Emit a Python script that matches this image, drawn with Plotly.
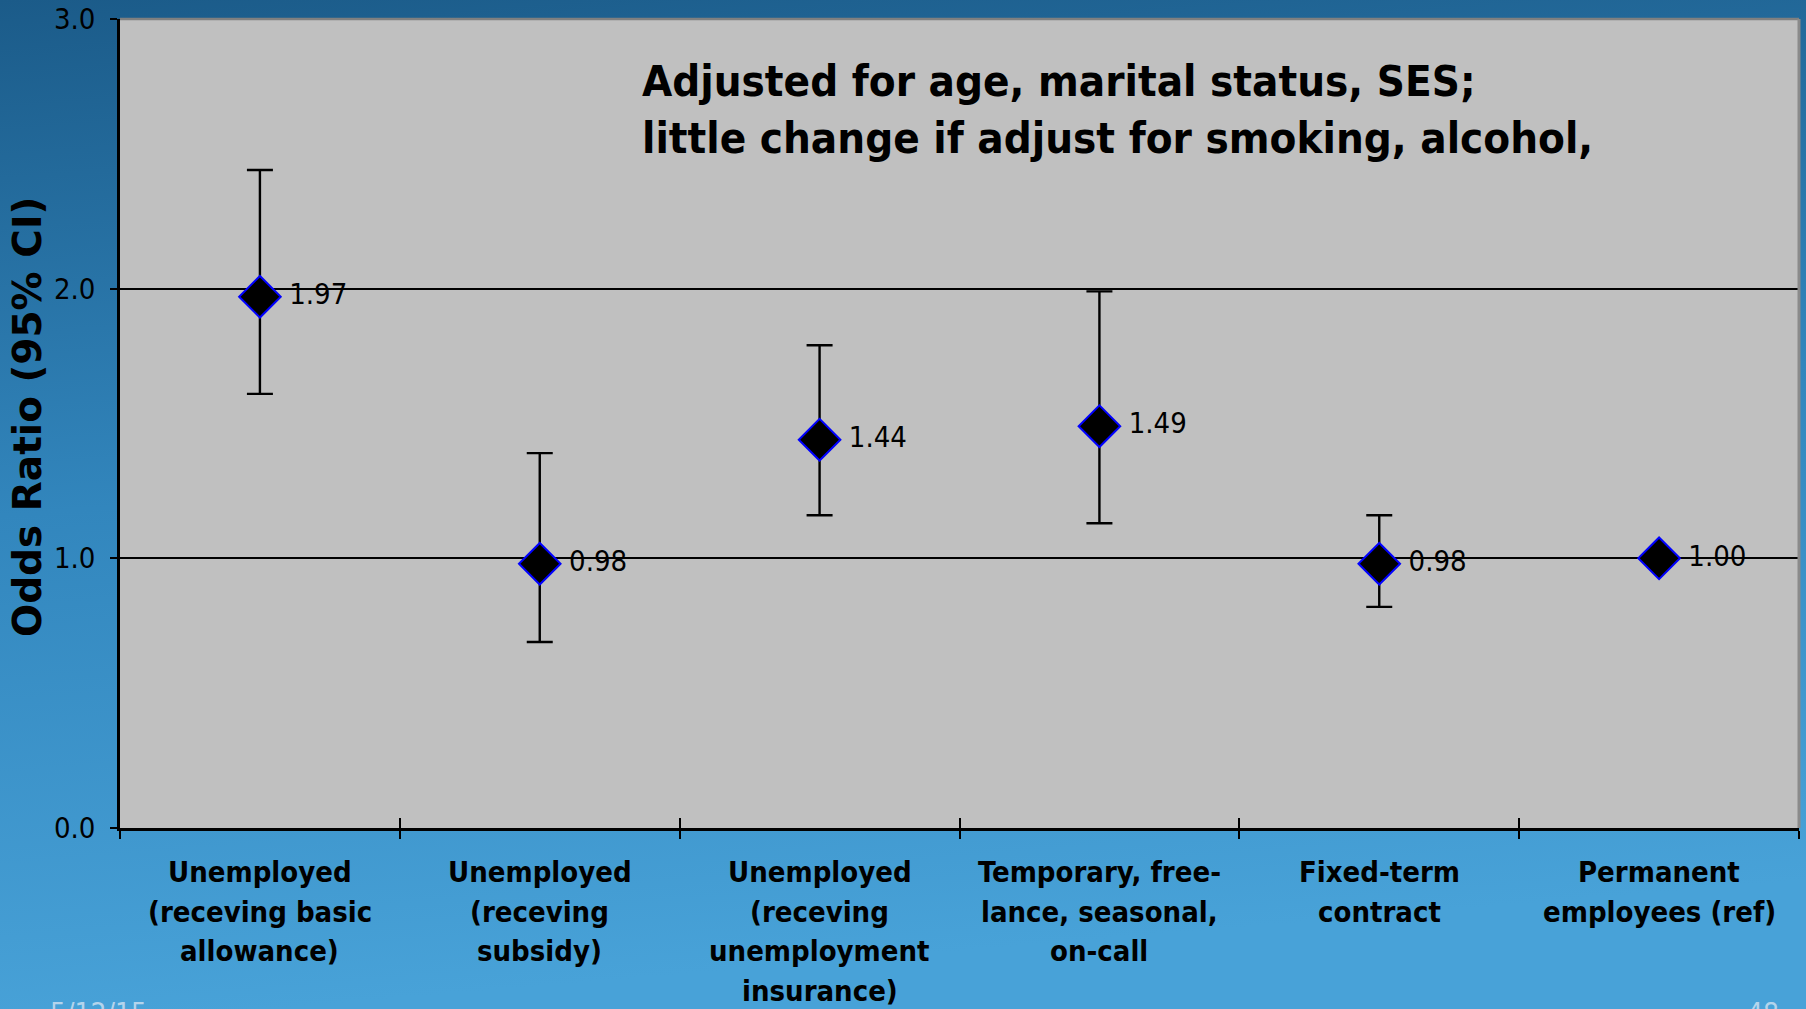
import base64
import plotly.graph_objects as go

# ---- data ----
categories = [
    "Unemployed\n(receving basic\nallowance)",
    "Unemployed\n(receving\nsubsidy)",
    "Unemployed\n(receving\nunemployment\ninsurance)",
    "Temporary, free-\nlance, seasonal,\non-call",
    "Fixed-term\ncontract",
    "Permanent\nemployees (ref)",
]
odds_ratio = [1.97, 0.98, 1.44, 1.49, 0.98, 1.00]
ci_low = [1.61, 0.69, 1.16, 1.13, 0.82, 1.00]
ci_high = [2.44, 1.39, 1.79, 1.99, 1.16, 1.00]
value_labels = ["1.97", "0.98", "1.44", "1.49", "0.98", "1.00"]
y_ticks = [0, 1, 2, 3]
y_tick_labels = ["0.0", "1.0", "2.0", "3.0"]
note_text = "Adjusted for age, marital status, SES;<br>little change if adjust for smoking, alcohol,"
y_title = "Odds Ratio (95% CI)"
footer_left = "5/12/15"
footer_right = "48"

W, H = 1806, 1009
L, R, T, B = 120, 7, 19, 181
pw, ph = W - L - R, H - T - B

REG = "DejaVu Sans Condensed, DejaVu Sans, sans-serif"
BOLD = "DejaVu Sans Condensed, DejaVu Sans, sans-serif"

xs = list(range(len(categories)))
err_plus = [h - v for h, v in zip(ci_high, odds_ratio)]
err_minus = [v - l for v, l in zip(odds_ratio, ci_low)]
has_ci = [h != l for h, l in zip(ci_high, ci_low)]

fig = go.Figure()
fig.add_trace(go.Scatter(
    x=xs, y=odds_ratio, mode="markers+text",
    text=[" " + t for t in value_labels], textposition="middle right",
    textfont=dict(family=REG, size=29, color="black"),
    marker=dict(symbol="diamond", size=32, color="black",
                line=dict(color="#0000ff", width=2)),
    error_y=dict(type="data", symmetric=False,
                 array=[e if c else 0 for e, c in zip(err_plus, has_ci)],
                 arrayminus=[e if c else 0 for e, c in zip(err_minus, has_ci)],
                 color="black", thickness=2.4, width=13,
                 visible=True),
    showlegend=False, cliponaxis=False,
))
# invisible trace for overlay axes (inside ticks)
fig.add_trace(go.Scatter(x=[xs[0]], y=[odds_ratio[0]], xaxis="x2", yaxis="y2",
                         mode="markers", marker=dict(opacity=0), showlegend=False,
                         hoverinfo="skip"))

# gradient background as svg image
svg = ('<svg xmlns="http://www.w3.org/2000/svg" width="%d" height="%d">'
       '<defs><linearGradient id="g" x1="0" y1="0" x2="0.15" y2="1">'
       '<stop offset="0" stop-color="#1b5b89"/>'
       '<stop offset="0.5" stop-color="#3286bd"/>'
       '<stop offset="1" stop-color="#48a2d8"/>'
       '</linearGradient></defs>'
       '<rect width="%d" height="%d" fill="url(#g)"/></svg>') % (W, H, W, H)
src = "data:image/svg+xml;base64," + base64.b64encode(svg.encode()).decode()

def px_x(p):
    return (p - L) / pw

def px_y(p):
    return (H - B - p) / ph

xrange_ = [-0.5, len(categories) - 0.5]
yrange_ = [0, 3]

fig.update_layout(
    width=W, height=H,
    margin=dict(l=L, r=R, t=T, b=B, pad=0, autoexpand=False),
    paper_bgcolor="#3286bd",
    plot_bgcolor="#c0c0c0",
    images=[dict(source=src, xref="paper", yref="paper",
                 x=px_x(0), y=px_y(0), sizex=W / pw, sizey=H / ph,
                 xanchor="left", yanchor="top", sizing="stretch", layer="below")],
    xaxis=dict(range=xrange_, tickmode="linear", tick0=0.5, dtick=1,
               showticklabels=False, ticks="outside", ticklen=8, tickwidth=2,
               tickcolor="black", showgrid=False, zeroline=False, automargin=False,
               showline=True, linecolor="black", linewidth=2.5),
    yaxis=dict(range=yrange_, tickvals=y_ticks, ticktext=y_tick_labels,
               ticks="outside", ticklen=7, tickwidth=2, tickcolor="black",
               tickfont=dict(family=REG, size=29, color="black"),
               ticklabelstandoff=9, automargin=False,
               showgrid=True, gridcolor="black", gridwidth=2, zeroline=False,
               showline=True, linecolor="black", linewidth=2.5),
    xaxis2=dict(range=xrange_, overlaying="x", anchor="y2", tickmode="linear",
                tick0=0.5, dtick=1, showticklabels=False, ticks="inside",
                ticklen=10, tickwidth=2, tickcolor="black", showgrid=False,
                zeroline=False, showline=False, automargin=False),
    yaxis2=dict(range=yrange_, overlaying="y", anchor="x2", tickvals=y_ticks,
                showticklabels=False, ticks="inside", ticklen=8, tickwidth=2,
                tickcolor="black", showgrid=False, zeroline=False, showline=False,
                automargin=False),
)

shapes = [
    dict(type="rect", xref="paper", yref="paper", x0=0, x1=1, y0=0, y1=1,
         fillcolor="#c0c0c0", line=dict(width=0), layer="below"),
    dict(type="line", xref="paper", yref="paper", x0=0, x1=1, y0=1, y1=1,
         line=dict(color="#808080", width=2.5), layer="above"),
    dict(type="line", xref="paper", yref="paper", x0=1, x1=1, y0=0, y1=1,
         line=dict(color="#8a8a8a", width=3), layer="above"),
]
fig.update_layout(shapes=shapes)

ann = []
# category labels, one annotation per line
for i, cat in enumerate(categories):
    for j, line in enumerate(cat.split("\n")):
        ann.append(dict(x=i, y=0, xref="x", yref="y", text="<b>%s</b>" % line,
                        showarrow=False, xanchor="center", yanchor="middle",
                        yshift=-(44 + 39.5 * j),
                        font=dict(family=BOLD, size=29, color="black")))
ann.append(dict(x=px_x(640), y=px_y(109), xref="paper", yref="paper",
                text="<b>%s</b>" % note_text, showarrow=False,
                xanchor="left", yanchor="middle", align="left",
                font=dict(family=BOLD, size=43.5, color="black")))
ann.append(dict(x=px_x(27), y=px_y(417), xref="paper", yref="paper",
                text="<b>%s</b>" % y_title, showarrow=False, textangle=-90,
                xanchor="center", yanchor="middle",
                font=dict(family="DejaVu Sans, sans-serif", size=39, color="black")))
ann.append(dict(x=px_x(48), y=px_y(995), xref="paper", yref="paper",
                text=footer_left, showarrow=False, xanchor="left", yanchor="top",
                font=dict(family=REG, size=28, color="#b4d4ec")))
ann.append(dict(x=px_x(1745), y=px_y(995), xref="paper", yref="paper",
                text=footer_right, showarrow=False, xanchor="left", yanchor="top",
                font=dict(family=REG, size=28, color="#b4d4ec")))
fig.update_layout(annotations=ann)

fig.write_html("out.html",
               config={"displayModeBar": False},
               post_script="document.body.style.margin='0';"
                           "document.body.style.overflow='hidden';"
                           "document.body.style.background='#3286bd';")
